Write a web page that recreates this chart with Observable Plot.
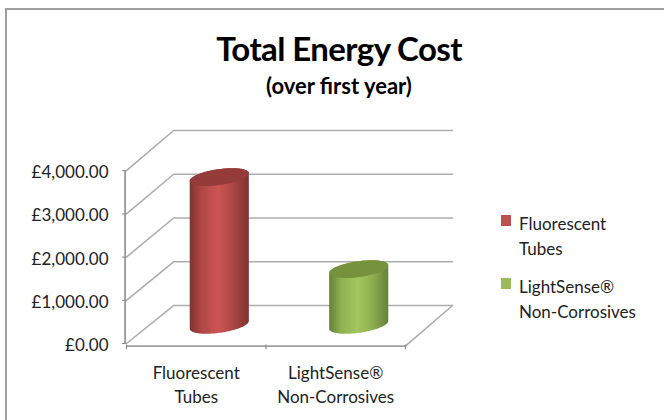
<!DOCTYPE html>
<html>
<head>
<meta charset="utf-8">
<script src="https://cdn.jsdelivr.net/npm/d3@7"></script>
<script src="https://cdn.jsdelivr.net/npm/@observablehq/plot@0.6"></script>
<style>
  html, body { margin: 0; padding: 0; background: #fff; }
  #chart { position: relative; width: 664px; height: 420px; overflow: hidden; font-family: Lato, "Open Sans", sans-serif; color: #111; }
  #frame { position: absolute; left: 5px; top: 8px; width: 700px; height: 500px; border: 2px solid #a0a0a0; box-sizing: border-box; }
  #title, #subtitle { position: absolute; left: 0; width: 678px; text-align: center; font-weight: 700; color: #000; white-space: nowrap; }
  #title { top: 28px; font-size: 33px; line-height: 40px; letter-spacing: -0.6px; }
  #subtitle { top: 73px; font-size: 22px; line-height: 26px; }
  #plot { position: absolute; left: 0; top: 0; }
  .swatch { position: absolute; left: 501px; width: 10px; height: 11px; }
  .leg { position: absolute; left: 519px; font-size: 17px; line-height: 25px; white-space: pre; color: #222; }
</style>
</head>
<body>
<div id="chart">
  <div id="frame"></div>
  <div id="plot"></div>
  <div id="title">Total Energy Cost</div>
  <div id="subtitle">(over first year)</div>
</div>
<script>
const categories = ["Fluorescent\nTubes", "LightSense®\nNon-Corrosives"];
const values = [3400, 1270];
const bodyGradients = ["gradRed", "gradGreen"];
const topColors = ["#953b39", "#76923c"];
const swatchColors = ["#c0504d", "#9bbb59"];
const yTicks = [0, 1000, 2000, 3000, 4000];

// oblique projection of the 3-D box, in data units
const depthX = 0.338;
const depthY = 879;
const backStretch = 1.0125;
const backY = v => v * backStretch + depthY;
const floorFront = -60;

const gridLines = yTicks.flatMap(v => [
  {v, x: 0, y: v},
  {v, x: depthX, y: backY(v)},
  {v, x: 2 + depthX, y: backY(v)}
]);
const floorEdge = [
  {x: 2, y: floorFront},
  {x: 2 + depthX, y: backY(0)}
];
const floorFrontEdge = [{x: 0, y: floorFront}, {x: 2, y: floorFront}];

// cylinder outlines: rx in category units, ry, slope and baseDrop in value units
const rx = 0.212, ry = 185, slope = 90, baseDrop = 20;
function arc(i) {
  const cx = i + 0.5 + depthX / 2;
  const mid = depthY / 2;
  const value = values[i];
  return d3.range(0, 61).map(k => {
    const t = Math.PI * k / 60;
    const c = Math.cos(t), s = Math.sin(t);
    const shear = slope * c;
    return {
      i,
      x: cx + rx * c,
      bodyLow: mid - baseDrop + shear - ry * s,
      bodyHigh: mid + value + shear + ry * s,
      capLow: mid + value + shear - ry * s,
      capHigh: mid + value + shear + ry * s
    };
  });
}

function gradient(id, edge, midColor, dark) {
  const g = d3.create("svg:linearGradient").attr("id", id);
  [[0, dark], [0.2, edge], [0.48, midColor], [0.72, edge], [1, dark]].forEach(([o, c]) =>
    g.append("stop").attr("offset", o).attr("stop-color", c));
  return g.node();
}
const defs = () => {
  const d = d3.create("svg:defs");
  d.node().append(gradient("gradRed", "#ae4745", "#cc5552", "#7e3330"));
  d.node().append(gradient("gradGreen", "#8fb04f", "#a3c65f", "#66803a"));
  return d.node();
};

const cylinderMarks = values.flatMap((_, i) => {
  const pts = arc(i);
  return [
    Plot.areaY(pts, {x: "x", y1: "bodyLow", y2: "bodyHigh", fill: `url(#${bodyGradients[i]})`}),
    Plot.areaY(pts, {x: "x", y1: "capLow", y2: "capHigh", fill: topColors[i]})
  ];
});

const plot = Plot.plot({
  width: 664,
  height: 420,
  marginLeft: 126,
  marginRight: 212,
  marginTop: 130,
  marginBottom: 77,
  style: {fontFamily: "Lato, 'Open Sans', sans-serif", background: "transparent", overflow: "visible"},
  x: {domain: [0, 2 + depthX], axis: null},
  y: {domain: [0, backY(4000)], axis: null},
  marks: [
    defs,
    Plot.line(gridLines, {x: "x", y: "y", z: "v", stroke: "#adadad", strokeWidth: 1.6}),
    Plot.line(floorEdge, {x: "x", y: "y", stroke: "#adadad", strokeWidth: 1.6}),
    Plot.line(floorFrontEdge, {x: "x", y: "y", stroke: "#a0a0a0", strokeWidth: 1.6}),
    Plot.ruleX([-0.01], {y1: 0, y2: 4000, stroke: "#8c8c8c", strokeWidth: 1.6}),
    Plot.ruleX([0, 1, 2], {y1: floorFront + 25, y2: floorFront - 85, stroke: "#8c8c8c", strokeWidth: 1.2}),
    Plot.axisY({
      ticks: yTicks,
      anchor: "left",
      tickSize: 4,
      tickPadding: 14,
      tickFormat: () => null,
      stroke: "#8c8c8c",
      label: null
    }),
    Plot.text(yTicks, {
      y: d => d,
      frameAnchor: "left",
      textAnchor: "end",
      dx: -18,
      dy: 2,
      text: d => "£" + d3.format(",.2f")(d),
      fontSize: 17,
      fill: "#222"
    }),
    ...cylinderMarks,
    Plot.text(categories, {
      x: (_, i) => i + 0.5,
      y: () => floorFront,
      text: d => d,
      dy: 15,
      lineAnchor: "top",
      lineHeight: 1.45,
      fontSize: 17,
      fill: "#222"
    })
  ]
});
document.getElementById("plot").append(plot);

const chart = document.getElementById("chart");
const legendTops = [[215, 211], [277.5, 274]];
categories.forEach((c, i) => {
  const s = document.createElement("div");
  s.className = "swatch";
  s.style.top = legendTops[i][0] + "px";
  s.style.background = swatchColors[i];
  chart.append(s);
  const t = document.createElement("div");
  t.className = "leg";
  t.style.top = legendTops[i][1] + "px";
  t.textContent = c;
  chart.append(t);
});
</script>
</body>
</html>
